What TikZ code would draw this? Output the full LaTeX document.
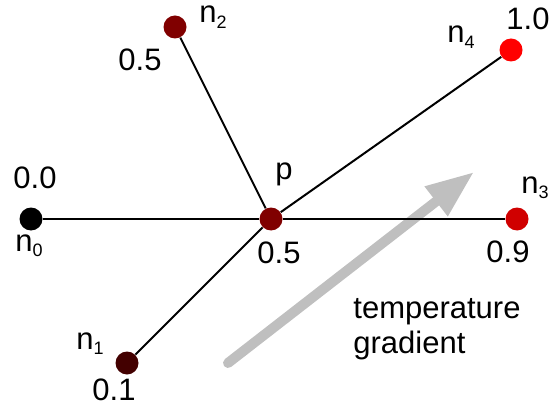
\documentclass[tikz,border=0pt]{standalone}
\usepackage{fontspec}
\setmainfont{Liberation Sans}
\usetikzlibrary{arrows.meta, positioning}

\definecolor{temp00}{HTML}{000000}
\definecolor{temp01}{HTML}{430000}
\definecolor{temp05}{HTML}{800000}
\definecolor{temp09}{HTML}{D00000}
\definecolor{temp10}{HTML}{FF0000}

\newcommand{\nname}[1]{n\raisebox{-2.8pt}{\fontsize{9}{9}\selectfont #1}}

\begin{document}
\begin{tikzpicture}[x=0.5pt, y=-0.5pt,
    site/.style={circle, minimum size=11.5pt, inner sep=0pt},
    val/.style={anchor=base west, inner sep=0pt,
                font=\fontsize{15.5}{17.5}\selectfont},
    edge/.style={line width=1pt},
    grad/.style={line width=5pt, black!25, line cap=round,
                 -{Triangle[length=24pt, width=17.5pt]}}
  ]
  \useasboundingbox (0,0) rectangle (550,411);

  % Gradient arrow (behind everything)
  \coordinate (gradS) at (228,363);
  \coordinate (gradE) at (474,172);
  \draw[grad] (gradS) -- (gradE);
  \node[val] (gradtxt)  at (353,318) {temperature};
  \node[val] (gradtxt2) at (353,353) {gradient};

  % Nodes
  \node[site, fill=temp05] (p)  at (271,219) {};
  \node[site, fill=temp00] (n0) at (31,219)  {};
  \node[site, fill=temp01] (n1) at (127,363) {};
  \node[site, fill=temp05] (n2) at (175,27)  {};
  \node[site, fill=temp09] (n3) at (517,219) {};
  \node[site, fill=temp10] (n4) at (511,50)  {};

  % Edges
  \foreach \n in {n0, n1, n2, n3, n4}
    \draw[edge] (p) -- (\n);

  % Names
  \node[val] (pname)  at (275,179) {p};
  \node[val] (n0name) at (15,251)  {\nname{0}};
  \node[val] (n1name) at (76,349)  {\nname{1}};
  \node[val] (n2name) at (199,23)  {\nname{2}};
  \node[val] (n3name) at (521,193) {\nname{3}};
  \node[val] (n4name) at (447,43)  {\nname{4}};

  % Values
  \node[val] (pval)  at (257,263) {0.5};
  \node[val] (n0val) at (13,188)  {0.0};
  \node[val] (n1val) at (92,400)  {0.1};
  \node[val] (n2val) at (118,71)  {0.5};
  \node[val] (n3val) at (486,262) {0.9};
  \node[val] (n4val) at (506,30)  {1.0};
\end{tikzpicture}
\end{document}
